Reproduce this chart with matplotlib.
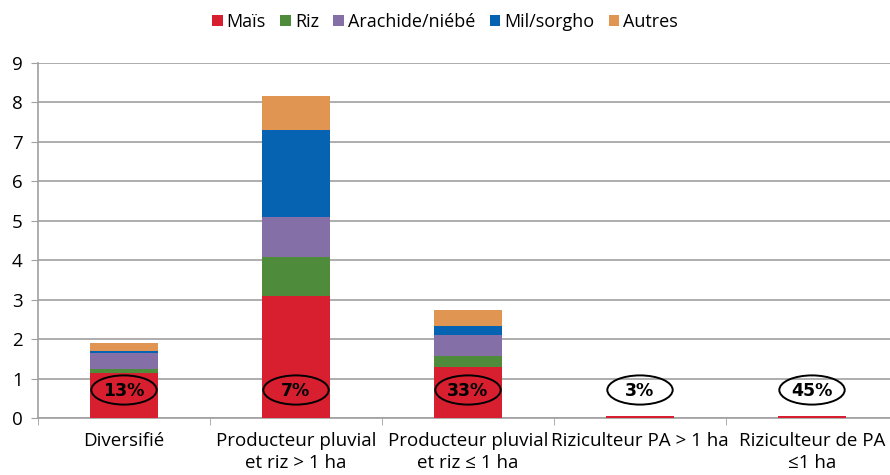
import matplotlib
matplotlib.use("Agg")
import matplotlib.pyplot as plt
from matplotlib.patches import Ellipse
import numpy as np

plt.rcParams['font.family'] = ['Open Sans', 'DejaVu Sans']

categories = ["Diversifié", "Producteur pluvial\net riz > 1 ha", "Producteur pluvial\net riz ≤ 1 ha",
              "Riziculteur PA > 1 ha", "Riziculteur de PA\n≤1 ha"]
series_names = ["Maïs", "Riz", "Arachide/niébé", "Mil/sorgho", "Autres"]
mais = [1.14, 3.10, 1.29, 0.05, 0.05]
riz = [0.10, 0.99, 0.28, 0.0, 0.0]
arachide = [0.41, 1.01, 0.53, 0.0, 0.0]
mil = [0.04, 2.21, 0.23, 0.0, 0.0]
autres = [0.21, 0.86, 0.42, 0.0, 0.0]
percents = ["13%", "7%", "33%", "3%", "45%"]
colors = ["#D71F30", "#4E8B3B", "#8470A6", "#0563B1", "#E09552"]

fig = plt.figure(figsize=(8.9, 4.75), dpi=100)
ax = fig.add_axes([38/890, 1-418/475, 860/890, (418-63)/475])

x = np.arange(len(categories))
bottom = np.zeros(len(categories))
for name, vals, c in zip(series_names, [mais, riz, arachide, mil, autres], colors):
    ax.bar(x, vals, 0.39, bottom=bottom, color=c, label=name, zorder=3)
    bottom += np.array(vals)

for xi, p in zip(x, percents):
    ax.add_patch(Ellipse((xi, 0.71), 0.38, 0.74, facecolor='none', edgecolor='black', lw=1.4, zorder=4))
    ax.text(xi, 0.69, p, ha='center', va='center', fontsize=12.5, fontweight='bold',
            family='DejaVu Sans', zorder=5)

ax.set_xlim(-0.5, 4.5)
ax.set_ylim(0, 9)
ax.set_yticks(range(10))
ax.yaxis.grid(True, color='#A0A0A0', lw=1.2, zorder=0)
ax.set_axisbelow(True)
for s in ['top', 'right']:
    ax.spines[s].set_visible(False)
ax.spines['left'].set_color('#A0A0A0')
ax.spines['bottom'].set_color('#A0A0A0')
ax.spines['left'].set_linewidth(1.2)
ax.spines['bottom'].set_linewidth(1.2)
ax.tick_params(axis='y', length=5, color='#A0A0A0', labelsize=13.5, pad=6)
ax.set_xticks(np.arange(-0.5, 5, 1), minor=True)
ax.set_xticks(x)
ax.set_xticklabels(categories, fontsize=13.5, linespacing=1.3)
ax.tick_params(axis='x', which='major', length=0, pad=10)
ax.tick_params(axis='x', which='minor', length=5, color='#A0A0A0')

handles, labels = ax.get_legend_handles_labels()
fig.legend(handles, labels, loc='center', bbox_to_anchor=(0.5, 1-22/475), ncol=5, frameon=False,
           fontsize=13, handlelength=0.6, handleheight=0.6, handletextpad=0.2, columnspacing=0.8)

fig.savefig("out.png", dpi=100)
